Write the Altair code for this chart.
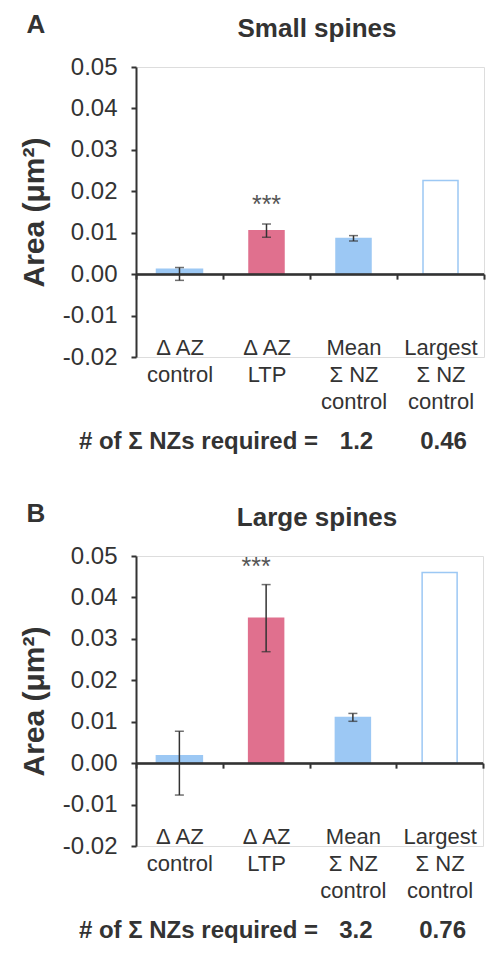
import altair as alt
import pandas as pd

# ---- data ----
categories = ["Δ AZ|control", "Δ AZ|LTP", "Mean|Σ NZ|control", "Largest|Σ NZ|control"]
kinds = ["blue", "pink", "blue", "outline"]

small_mean = [0.0012, 0.0105, 0.0086, 0.0226]
small_lo = [-0.0015, 0.0089, 0.0080, None]
small_hi = [0.0016, 0.0121, 0.0093, None]
small_required = ["", "", "1.2", "0.46"]
small_star = 0.0148

large_mean = [0.0018, 0.0350, 0.0110, 0.0460]
large_lo = [-0.0077, 0.0269, 0.0101, None]
large_hi = [0.0077, 0.0431, 0.0120, None]
large_required = ["", "", "3.2", "0.76"]
large_star = 0.0455

y_ticks = [-0.02, -0.01, 0.0, 0.01, 0.02, 0.03, 0.04, 0.05]
y_domain = [-0.02, 0.05]

FONT = "Liberation Sans"
DARK = "#333333"
BLUE = "#9CC8F4"
PINK = "#E0708E"


def panel(means, lo, hi, required, star, star_dx, title, letter, width, height):
    df = pd.DataFrame({
        "cat": categories,
        "idx": list(range(len(categories))),
        "kind": kinds,
        "mean": means,
        "lo": lo,
        "hi": hi,
        "req": required,
    })
    base = alt.Chart(df)
    zero_offset = -height * (0 - y_domain[0]) / (y_domain[1] - y_domain[0])
    x_axis = alt.Axis(
        title=None, orient="bottom", offset=zero_offset, tickBand="extent",
        tickSize=5, tickWidth=2, tickColor=DARK, domainColor=DARK, domainWidth=2,
        labelAngle=0, labelFontSize=22, labelColor=DARK, labelFont=FONT,
        labelPadding=58, labelLineHeight=27, labelExpr="split(datum.label, '|')",
        labelBaseline="top", zindex=1,
    )
    xs = alt.Scale(paddingInner=0, paddingOuter=0)
    X = alt.X("cat:N", sort=categories, scale=xs, axis=x_axis)
    y_axis = alt.Axis(
        values=y_ticks, title="Area (μm²)", titleFontSize=30, titleFontWeight="bold",
        titleColor=DARK, titleFont=FONT, titlePadding=13,
        labelFontSize=24, labelColor=DARK, labelFont=FONT, labelPadding=14,
        labelExpr="datum.value < -0.0001 ? '-' + format(-datum.value, '.2f') : format(abs(datum.value), '.2f')",
        tickSize=5, tickWidth=2, tickColor=DARK, domainColor=DARK, domainWidth=2,
        grid=False,
    )
    ys = alt.Scale(domain=y_domain, nice=False, zero=False)

    def Y(field):
        return alt.Y(field, scale=ys, axis=y_axis, title="Area (μm²)")

    fill = alt.Color("kind:N", scale=alt.Scale(domain=["blue", "pink", "outline"],
                                               range=[BLUE, PINK, "#FFFFFF"]), legend=None)
    stroke = alt.Stroke("kind:N", scale=alt.Scale(domain=["blue", "pink", "outline"],
                                                  range=[BLUE, PINK, BLUE]), legend=None)

    bars_first = base.transform_filter("datum.idx == 0").mark_bar(width=46, strokeWidth=1.5).encode(
        x=X, y=Y("mean:Q"), y2=alt.datum(0), fill=fill, stroke=stroke)
    bars_rest = base.transform_filter("datum.idx > 0").mark_bar(width=35, strokeWidth=1.5).encode(
        x=X, y=Y("mean:Q"), y2=alt.datum(0), fill=fill, stroke=stroke)

    zero_line = alt.Chart(pd.DataFrame({"z": [0.0]})).mark_rule(color=DARK, strokeWidth=2).encode(
        y=alt.Y("z:Q", scale=ys, axis=y_axis, title="Area (μm²)"))

    err = base.transform_filter("isValid(datum.lo)").mark_rule(color=DARK, strokeWidth=1.5).encode(
        x=X, y=Y("lo:Q"), y2="hi:Q")
    caps = base.transform_filter("isValid(datum.lo)").transform_fold(["lo", "hi"], as_=["k", "v"]).mark_tick(
        color=DARK, thickness=1.5, size=9, orient="horizontal").encode(x=X, y=Y("v:Q"))

    stars = alt.Chart(pd.DataFrame({"s": ["***"]})).mark_text(
        font=FONT, fontSize=25, color="#555555", baseline="alphabetic", dx=star_dx).encode(
        x=alt.datum(categories[1]), y=alt.datum(star), text="s:N")

    req = base.transform_filter("datum.req != ''").mark_text(
        font=FONT, fontSize=24, fontWeight="bold", color=DARK, baseline="middle", dx=3).encode(
        x=X, y=alt.value(height + 85), text="req:N")
    req_label = alt.Chart(pd.DataFrame({"t": ["# of Σ NZs required  ="]})).mark_text(
        font=FONT, fontSize=24, fontWeight="bold", color=DARK, baseline="middle", align="right").encode(
        x=alt.value(182), y=alt.value(height + 85), text="t:N")

    ttl = alt.Chart(pd.DataFrame({"t": [title]})).mark_text(
        font=FONT, fontSize=26, fontWeight="bold", color=DARK, baseline="alphabetic", align="center").encode(
        x=alt.value(181), y=alt.value(-30), text="t:N")
    let = alt.Chart(pd.DataFrame({"t": [letter]})).mark_text(
        font=FONT, fontSize=26, fontWeight="bold", color=DARK, baseline="middle", align="center").encode(
        x=alt.value(-100), y=alt.value(-42), text="t:N")

    return alt.layer(bars_first, bars_rest, zero_line, err, caps, stars, req, req_label, ttl, let).properties(
        width=width, height=height)


pa = panel(small_mean, small_lo, small_hi, small_required, small_star, 0, "Small spines", "A", 348, 290)
pb = panel(large_mean, large_lo, large_hi, large_required, large_star, -10, "Large spines", "B", 347, 290)

chart = alt.vconcat(pa, pb, spacing=45).properties(
    padding={"left": 10, "top": 3, "right": 0, "bottom": 0}
).configure_view(stroke=None).configure(font=FONT)

chart.save("out.html", embed_options={"renderer": "svg", "actions": False})
